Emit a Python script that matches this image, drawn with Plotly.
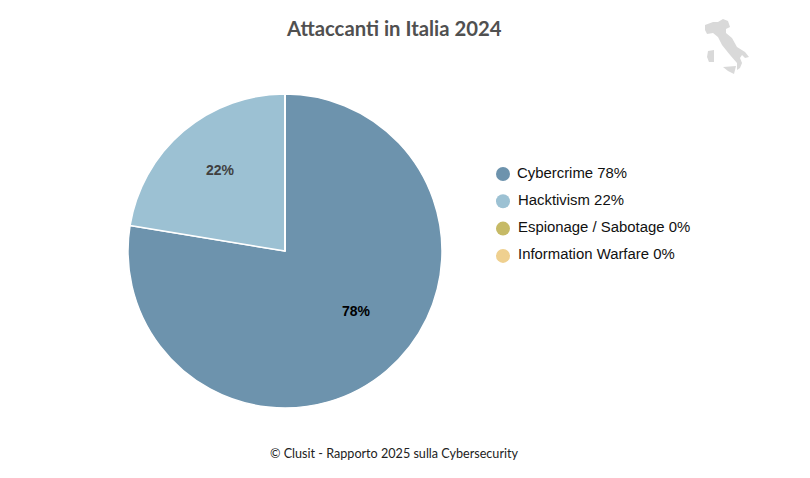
# -*- coding: utf-8 -*-
import plotly.graph_objects as go

W, H = 810, 478
PAGE_MARGIN = 8  # the html body pushes the plot 8px right and down

categories = ['Cybercrime', 'Hacktivism', 'Espionage / Sabotage', 'Information Warfare']
values = [77.6, 22.4, 0, 0]
shown_pct = [78, 22, 0, 0]
colors = ['#6d93ad', '#9cc1d3', '#c6ba66', '#efd08f']

# Italy logo outlines, traced on the picture (pixels)
italy_main = [(705, 25), (713, 22), (718, 22), (723, 19), (728, 21), (730, 27), (726, 29), (726, 33),
              (732, 38), (737, 47), (745, 52), (749, 57), (745, 58), (742, 55), (740, 58), (742, 63),
              (740, 68), (737, 70), (737, 63), (730, 55), (722, 45), (718, 37), (713, 33), (707, 34), (705, 30)]
italy_sardinia = [(708, 51), (714, 50), (714, 62), (709, 62), (707, 57)]
italy_sicily = [(723, 67), (736, 66), (734, 74), (728, 71)]


def X(x):
    return (x - PAGE_MARGIN) / W


def Y(y):
    return 1 - (y - PAGE_MARGIN) / H


def px_path(points):
    s = ' L '.join(f'{X(x):.4f},{Y(y):.4f}' for x, y in points)
    return 'M ' + s + ' Z'


def main():
    fig = go.Figure()
    fig.add_trace(go.Pie(
        labels=categories,
        values=values,
        marker=dict(colors=colors, line=dict(color='white', width=1.5)),
        sort=False,
        direction='clockwise',
        rotation=0,
        textinfo='none',
        hoverinfo='label+percent',
        showlegend=False,
        domain=dict(x=[X(128), X(442)], y=[Y(408), Y(94)]),
    ))

    annotations = [
        dict(text='<b>Attaccanti in Italia 2024</b>', x=X(394), y=Y(28), xref='paper', yref='paper',
             showarrow=False, xanchor='center', yanchor='middle',
             font=dict(family='Lato', size=20.3, color='#505050')),
        dict(text='© Clusit - Rapporto 2025 sulla Cybersecurity', x=X(394), y=Y(453), xref='paper', yref='paper',
             showarrow=False, xanchor='center', yanchor='middle',
             font=dict(family='Lato', size=12.6, color='#222222')),
        # slice labels sit further out than plotly's inside text would put them
        dict(text=f'<b>{shown_pct[0]}%</b>', x=X(356), y=Y(311), xref='paper', yref='paper', showarrow=False,
             xanchor='center', yanchor='middle',
             font=dict(family='Liberation Sans', size=14, color='#000000')),
        dict(text=f'<b>{shown_pct[1]}%</b>', x=X(220), y=Y(170), xref='paper', yref='paper', showarrow=False,
             xanchor='center', yanchor='middle',
             font=dict(family='Liberation Sans', size=14, color='#404040')),
    ]

    # legend is circles and text, a pie legend only gives squares
    shapes = []
    for i, (cat, pct, col) in enumerate(zip(categories, shown_pct, colors)):
        y = 174 + i * 27.3
        shapes.append(dict(type='circle', xref='paper', yref='paper', line=dict(width=0), fillcolor=col,
                           x0=X(496), x1=X(510), y0=Y(y + 7), y1=Y(y - 7)))
        annotations.append(dict(text=f'{cat} {pct}%', x=X(515 if i == 0 else 516), y=Y(y - 1.5),
                                xref='paper', yref='paper', showarrow=False, xanchor='left', yanchor='middle',
                                font=dict(family='Liberation Sans', size=14.9, color='#111111')))

    for pts in (italy_main, italy_sardinia, italy_sicily):
        shapes.append(dict(type='path', xref='paper', yref='paper', path=px_path(pts),
                           fillcolor='#d9d9d9', line=dict(width=0)))

    fig.update_layout(
        width=W, height=H,
        margin=dict(l=0, r=0, t=0, b=0),
        paper_bgcolor='white',
        annotations=annotations,
        shapes=shapes,
    )
    fig.write_html('out.html')


if __name__ == '__main__':
    main()
